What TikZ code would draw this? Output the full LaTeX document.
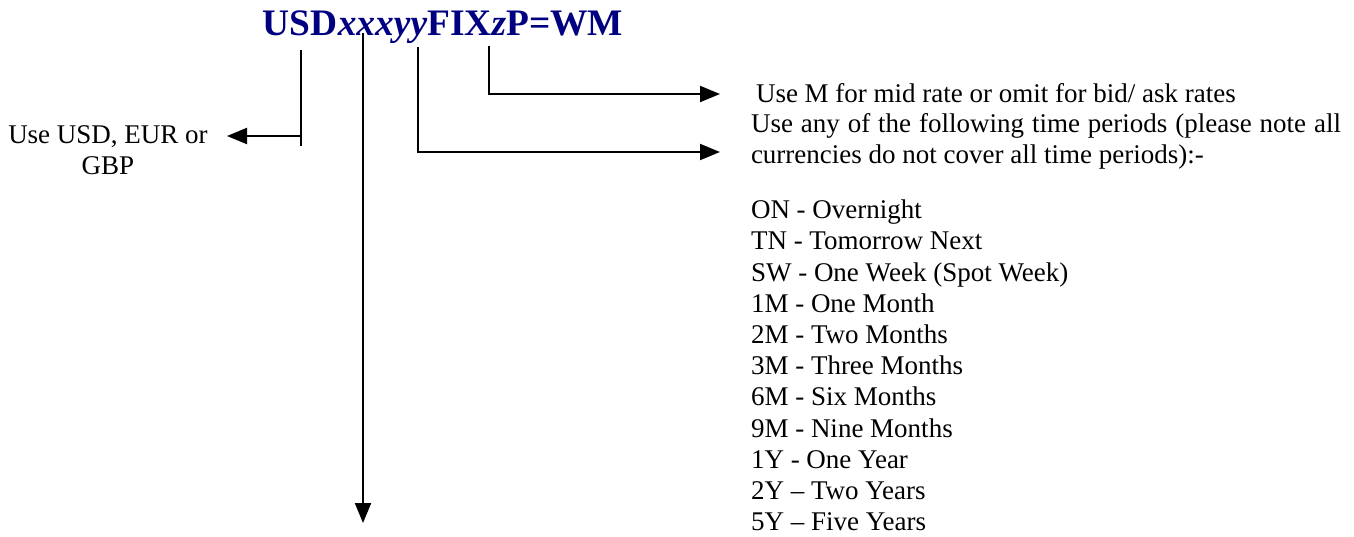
\documentclass[tikz,border=0pt]{standalone}
\usepackage{fontspec}
\setmainfont{Liberation Serif}
\usetikzlibrary{arrows.meta, positioning}
\definecolor{navy}{RGB}{0,0,128}

\begin{document}
\begin{tikzpicture}[x=0.5pt, y=-0.5pt, line width=1pt,
    >={Triangle[length=10pt, width=8pt]},
    note/.style={font=\fontsize{13.5}{15.6}\selectfont, inner sep=0pt, align=left}]
  \useasboundingbox (0,0) rectangle (1354,536);
  % the code
  \node[font=\fontsize{18.7}{20}\selectfont\bfseries, text=navy, inner sep=0pt] (code) at (443,27)
    {USD\textit{xxxyy}FIX\textit{z}P=WM};
  % texts
  \node[note, align=center] (ccy) at (108,150) {Use USD, EUR or\\GBP};
  \node[note, anchor=west] (midtext) at (755,93) {Use M for mid rate or omit for bid/ ask rates};
  \node[note, anchor=north west, text width=295pt, align=justify] (tenortext) at (750,112)
    {Use any of the following time periods (please note all currencies do not cover all time periods):-};
  \node[note, anchor=north west] (tenors) at (750,199)
    {ON - Overnight\\TN - Tomorrow Next\\SW - One Week (Spot Week)\\1M - One Month\\2M - Two Months\\
     3M - Three Months\\6M - Six Months\\9M - Nine Months\\1Y - One Year\\2Y -- Two Years\\5Y -- Five Years};
  % connectors
  \coordinate (usd) at (301,50);
  \coordinate (usdbend) at (301,136);
  \coordinate (usdtip) at (227,136);
  \coordinate (xxx) at (363,33);
  \coordinate (xxxtip) at (363,523);
  \coordinate (yy) at (418,47);
  \coordinate (yytip) at (720,152);
  \coordinate (z) at (489,46);
  \coordinate (ztip) at (720,94);
  \draw (usd) -- ++(0,96);
  \draw[->] (usdbend) -- (usdtip);
  \draw[->] (xxx) -- (xxxtip);
  \draw[->] (yy) |- (yytip);
  \draw[->] (z) |- (ztip);
\end{tikzpicture}
\end{document}
